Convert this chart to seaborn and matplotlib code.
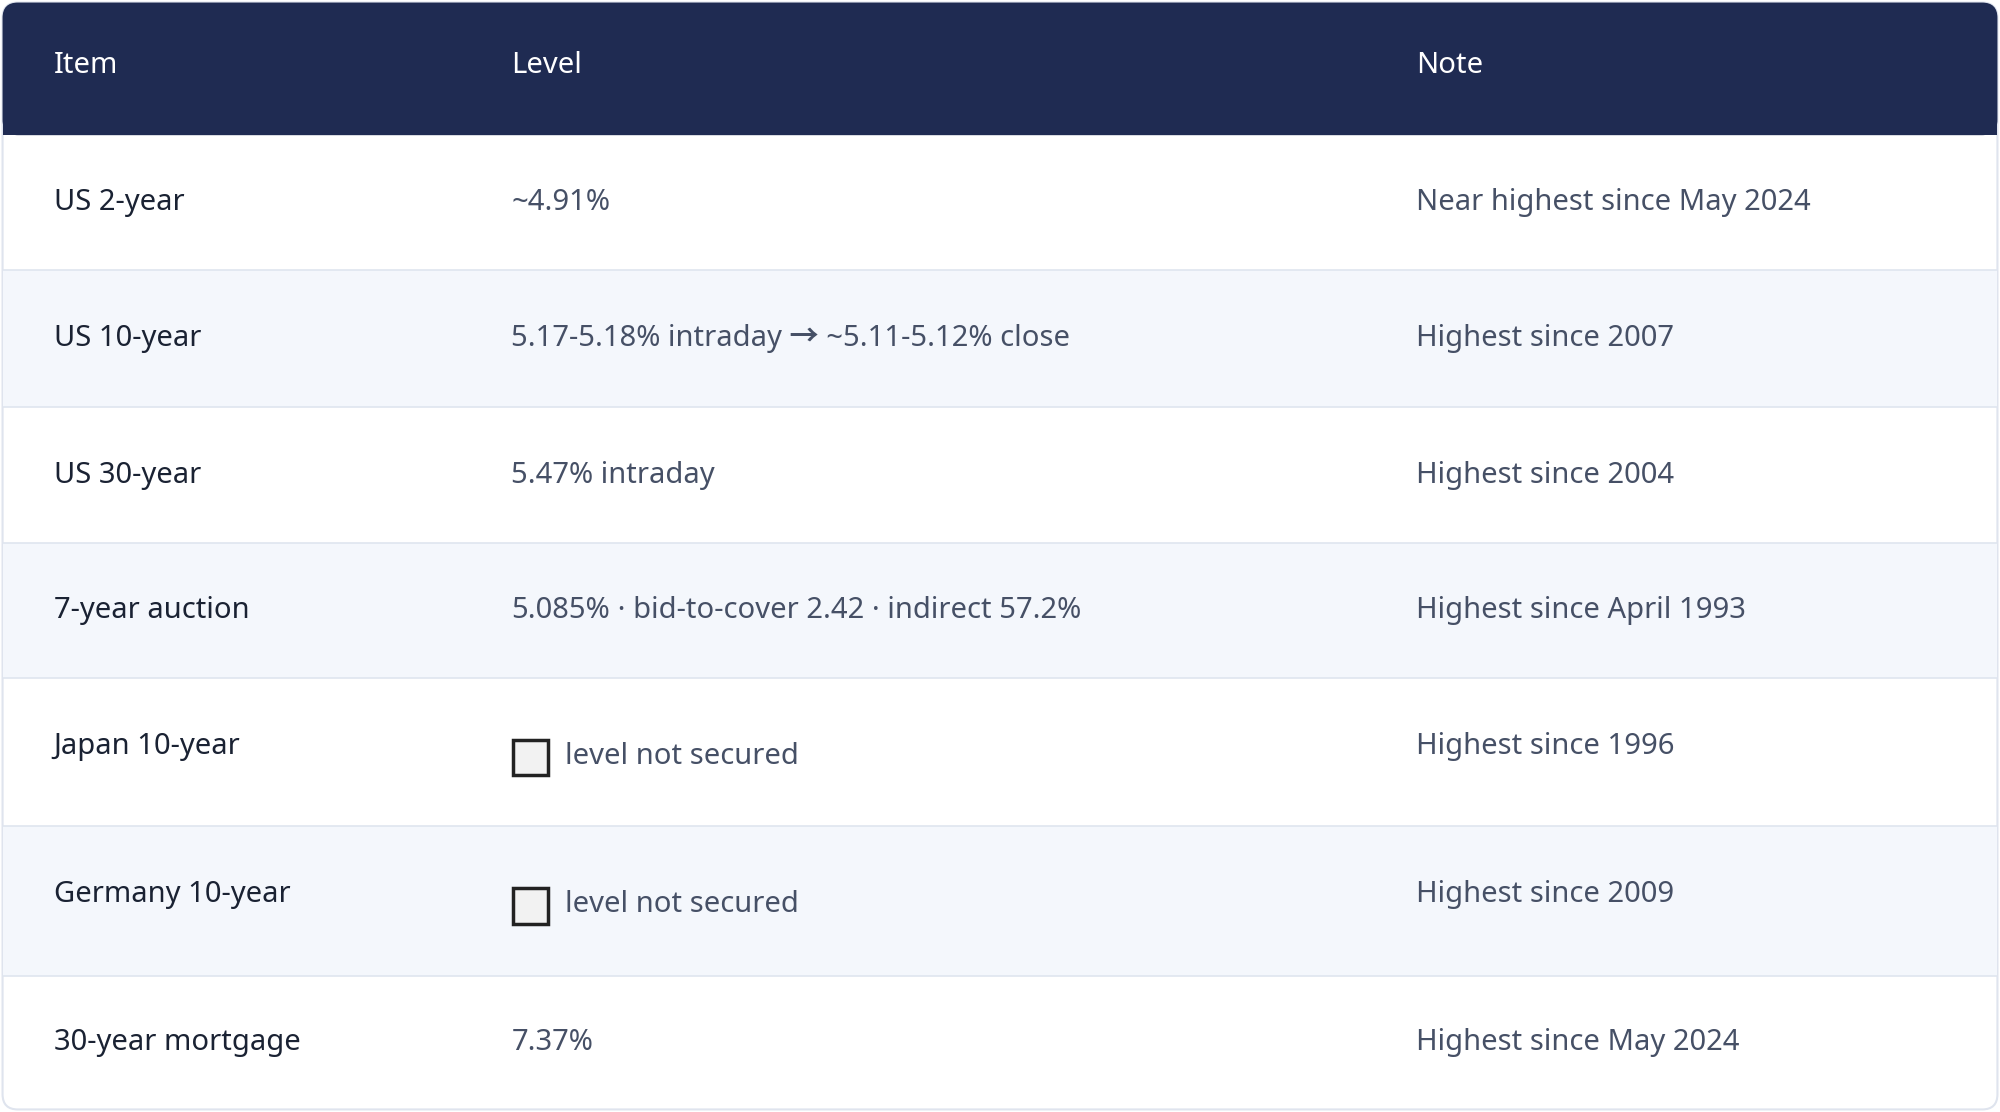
import seaborn as sns
import matplotlib.pyplot as plt
from matplotlib.patches import FancyBboxPatch, Rectangle

sns.set_theme(style="white")
plt.rcParams['font.family'] = ['Noto Sans', 'Noto Sans CJK KR', 'DejaVu Sans']

headers = ["Item", "Level", "Note"]
items = ["US 2-year", "US 10-year", "US 30-year", "7-year auction",
         "Japan 10-year", "Germany 10-year", "30-year mortgage"]
level_bold = ["", "5.17-5.18% intraday \u2192 ~5.11-5.12% close", "5.47% intraday",
              "5.085%", "", "", "7.37%"]
level_plain = ["~4.91%", "", "", " \u00b7 bid-to-cover 2.42 \u00b7 indirect 57.2%",
               "level not secured", "level not secured", ""]
has_box = [False, False, False, False, True, True, False]
notes = ["Near highest since May 2024", "Highest since 2007", "Highest since 2004",
         "Highest since April 1993", "Highest since 1996", "Highest since 2009",
         "Highest since May 2024"]
note_bold = [False, False, False, True, True, True, False]

# row boundaries in reference pixel units (1568 x 872 canvas)
row_edges = [106, 212, 319, 426, 532, 648, 765, 870]
col_x = [42, 401, 1110]

W, H = 1568, 872
fig = plt.figure(figsize=(20, 11.12), dpi=100)
ax = fig.add_axes([0, 0, 1, 1])
ax.set_xlim(0, W)
ax.set_ylim(H, 0)
ax.axis('off')

FS = 21
navy = "#1f2b52"
ax.add_patch(FancyBboxPatch((2, 2), W - 4, H - 4, boxstyle="round,pad=0,rounding_size=12",
                            fc="white", ec="#dfe4ee", lw=1.5, zorder=0))
ax.add_patch(FancyBboxPatch((2, 2), W - 4, 104, boxstyle="round,pad=0,rounding_size=12",
                            fc=navy, ec=navy, lw=0, zorder=1))
ax.fill_between([2, W - 2], 60, 106, color=navy, zorder=1, lw=0)

for i, h in enumerate(headers):
    ax.text(col_x[i], 51, h, color="white", fontsize=FS, fontweight="bold",
            va="center", ha="left", zorder=3)

fig.canvas.draw()
renderer = fig.canvas.get_renderer()

for r in range(len(items)):
    top, bot = row_edges[r], row_edges[r + 1]
    if r % 2 == 1:
        ax.fill_between([2, W - 2], top, bot, color="#f4f7fc", zorder=1, lw=0)
    if r > 0:
        ax.plot([2, W - 2], [top, top], color="#dfe5ef", lw=1.2, zorder=2)
    yc = (top + bot) / 2
    ytxt = yc - 5 if has_box[r] else yc
    ylev = yc + 3 if has_box[r] else yc
    ax.text(col_x[0], ytxt, items[r], color="#1a2233", fontsize=FS, fontweight="bold",
            va="center", ha="left", zorder=3)
    x = col_x[1]
    if has_box[r]:
        ax.add_patch(Rectangle((x + 1, ylev - 13), 28, 28, fc="#f2f2f2", ec="#222222",
                               lw=2.5, zorder=3))
        x += 42
    if level_bold[r]:
        t = ax.text(x, ylev, level_bold[r], color="#465066", fontsize=FS, fontweight="bold",
                    va="center", ha="left", zorder=3)
        bb = t.get_window_extent(renderer=renderer)
        x = ax.transData.inverted().transform((bb.x1, bb.y0))[0]
    if level_plain[r]:
        ax.text(x, ylev, level_plain[r], color="#465066", fontsize=FS,
                va="center", ha="left", zorder=3)
    ax.text(col_x[2], ytxt, notes[r], color="#465066", fontsize=FS,
            fontweight="bold" if note_bold[r] else "normal",
            va="center", ha="left", zorder=3)

fig.savefig("out.png", dpi=100)
